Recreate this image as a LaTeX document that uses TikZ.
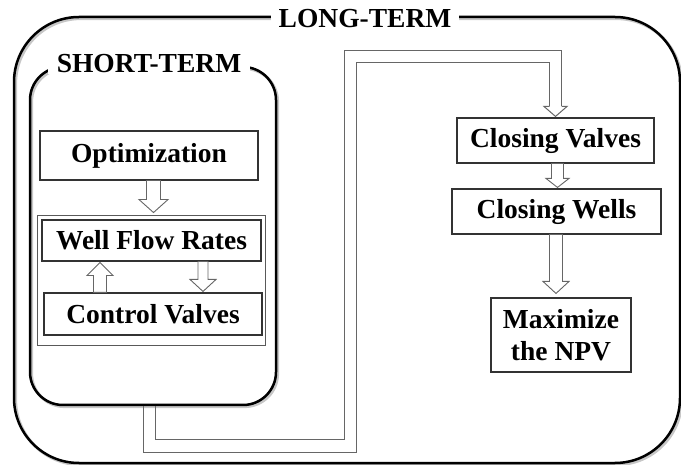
\documentclass[tikz,border=0pt]{standalone}
\usepackage{fontspec}
\setmainfont{Liberation Serif}
\usetikzlibrary{calc}
\tikzset{
  frame/.style={draw=black, line width=2.5pt, rounded corners=#1,
    minimum width=0pt, minimum height=0pt, inner sep=0pt,
    preaction={draw=black!22, line width=3pt, transform canvas={shift={(1.6pt,-1.6pt)}}}},
  lbl/.style={font=\fontsize{27.5}{32}\selectfont\bfseries},
  box/.style={lbl, draw=black!80, line width=1.1pt, inner sep=0pt, align=center},
  grpbox/.style={draw=black!65, line width=0.9pt, inner sep=0pt},
  ttl/.style={lbl, fill=white, inner xsep=8pt, inner ysep=1pt},
  fatline/.style={draw=black!60, line width=0.9pt, fill=white, line join=miter},
  conn/.style={draw=black!60, line width=1pt, line join=miter},
}
\newcommand\fatarrow[5]{%
  \draw[fatline] let \p1=(#1), \p2=(#2), \n1={sign(\y2-\y1)} in
    (\x2-#3pt,\y1) -- (\x2-#3pt,\y2-\n1*#5pt) -- (\x2-#4pt,\y2-\n1*#5pt) -- (\x2,\y2)
    -- (\x2+#4pt,\y2-\n1*#5pt) -- (\x2+#3pt,\y2-\n1*#5pt) -- (\x2+#3pt,\y1) -- cycle;}
\begin{document}
\begin{tikzpicture}[x=1pt,y=-1pt]
\useasboundingbox (0,0) rectangle (681,465);
% frames
\node[frame=65pt, minimum width=666pt, minimum height=446pt] (lt) at (347,240) {};
\node[frame=33pt, minimum width=246pt, minimum height=338pt] (st) at (153,236) {};
\node[ttl] (ltt) at (365,19) {LONG-TERM};
\node[ttl, inner xsep=9pt] (stt) at (149,64) {SHORT-TERM};
% short-term boxes
\node[box, minimum width=218pt, minimum height=49pt] (opt) at (149,155.5) {Optimization};
\node[grpbox, minimum width=228pt, minimum height=130pt] (grp) at (151,280) {};
\node[box, minimum width=219pt, minimum height=41pt] (wfr) at (151.5,240.5) {Well Flow Rates};
\node[box, minimum width=218pt, minimum height=42pt] (cv) at (153,314) {Control Valves};
% long-term boxes
\node[box, minimum width=197pt, minimum height=45pt] (cva) at (555.5,140.5) {Closing Valves};
\node[box, minimum width=209pt, minimum height=45pt] (cwe) at (556.5,211.5) {Closing Wells};
\node[box, minimum width=140pt, minimum height=74pt] (npv) at (561,335) {Maximize\\the NPV};
% fat arrows
\fatarrow{opt.south}{[xshift=2.5pt,yshift=2pt]grp.north}{7}{14.5}{13}
\fatarrow{cv.north}{[xshift=-51.5pt,yshift=-1pt]wfr.south}{6.5}{13}{13}
\fatarrow{wfr.south}{[xshift=50pt,yshift=1pt]cv.north}{5}{13}{12}
\fatarrow{cva.south}{[xshift=1pt,yshift=1pt]cwe.north}{6}{11.5}{9}
\fatarrow{cwe.south}{[xshift=-5pt,yshift=4pt]npv.north}{6.5}{13}{12}
% long connector (double outline)
\coordinate (c0) at ([xshift=-4pt]st.south);
\coordinate (b1) at (350,446);
\coordinate (b2) at (350,56.5);
\coordinate (hb) at ([yshift=11pt]cva.north);
\draw[conn] ($(c0)+(-6,0)$) |- ($(b1)+(6,6)$) |- ($(b2-|hb)+(-6,6)$) -- ($(hb)+(-6,0)$);
\draw[conn] ($(c0)+(6,0)$) |- ($(b1)+(-6,-6)$) |- ($(b2-|hb)+(6,-6)$) -- ($(hb)+(6,0)$);
\draw[conn] let \p1=(hb) in
  (\x1-6pt,\y1) -- (\x1-11.5pt,\y1) -- (\x1,\y1-10pt) -- (\x1+11.5pt,\y1) -- (\x1+6pt,\y1);
\end{tikzpicture}
\end{document}
